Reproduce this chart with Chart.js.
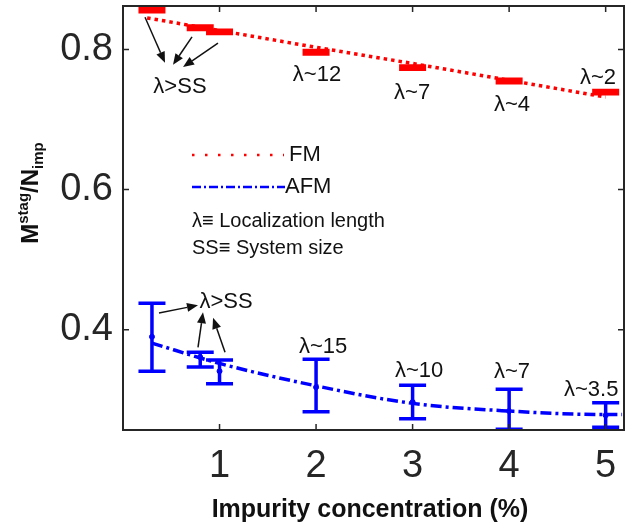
<!DOCTYPE html>
<html>
<head>
<meta charset="utf-8">
<script src="https://cdn.jsdelivr.net/npm/chart.js@4"></script>
<style>
  html, body { margin: 0; padding: 0; background: #fff; }
  #wrap { width: 629px; height: 524px; }
</style>
</head>
<body>
<div id="wrap"><canvas id="mychart" width="629" height="524"></canvas></div>
<script>
// FM data (red)
const fmX = [0.3, 0.8, 1.0, 2, 3, 4, 5];
const fmY = [0.856, 0.831, 0.825, 0.796, 0.774, 0.755, 0.739];
const fmErr = [0.002, 0.002, 0.002, 0.002, 0.002, 0.002, 0.002];

// AFM data (blue)
const afmX = [0.3, 0.8, 1.0, 2, 3, 4, 5];
const afmY = [0.390, 0.361, 0.341, 0.318, 0.297, 0.284, 0.278];
const afmHigh = [0.438, 0.368, 0.357, 0.358, 0.321, 0.315, 0.296];
const afmLow = [0.341, 0.347, 0.323, 0.283, 0.273, 0.258, 0.261];

// fit curves
const fmFitX = [0.25, 1, 2, 3, 4, 5];
const fmFitY = [0.845, 0.827, 0.803, 0.780, 0.756, 0.732];
const afmFitX = [0.3, 1, 2, 3, 4, 5, 5.17];
const afmFitY = [0.381, 0.352, 0.320, 0.295, 0.284, 0.279, 0.279];

// tick labels
const xTicks = [1, 2, 3, 4, 5];
const yTicks = [0.4, 0.6, 0.8];

// annotations: text at data coords, arrows tail -> head
const notes = [
  { t: "λ>SS", x: 0.59, y: 0.746 },
  { t: "λ~12", x: 2.01, y: 0.764 },
  { t: "λ~7", x: 2.995, y: 0.738 },
  { t: "λ~4", x: 4.03, y: 0.721 },
  { t: "λ~2", x: 4.92, y: 0.759 },
  { t: "λ>SS", x: 1.067, y: 0.440 },
  { t: "λ~15", x: 2.073, y: 0.375 },
  { t: "λ~10", x: 3.067, y: 0.341 },
  { t: "λ~7", x: 4.03, y: 0.340 },
  { t: "λ~3.5", x: 4.85, y: 0.314 },
];
const arrows = [
  [0.228, 0.846, 0.435, 0.781],
  [0.715, 0.818, 0.518, 0.778],
  [0.984, 0.809, 0.622, 0.775],
  [0.373, 0.424, 0.777, 0.435],
  [0.777, 0.375, 0.829, 0.425],
  [1.057, 0.368, 0.933, 0.417],
];

const FONT = "'Liberation Sans', Arial, sans-serif";
const AXIS = "#262626";

function pts(xs, ys) {
  return xs.map((x, i) => ({ x: x, y: ys[i] }));
}

// error bars, frame, ticks, legend, labels
const extras = {
  id: "extras",
  beforeDatasetsDraw(chart) {
    const ctx = chart.ctx;
    const xs = chart.scales.x, ys = chart.scales.y;
    const a = chart.chartArea;
    ctx.save();
    ctx.beginPath();
    ctx.rect(a.left, a.top, a.right - a.left, a.bottom - a.top);
    ctx.clip();
    // red error bars
    ctx.strokeStyle = "#ff0000";
    ctx.lineWidth = 4;
    fmX.forEach((x, i) => {
      const px = xs.getPixelForValue(x);
      const t = ys.getPixelForValue(fmY[i] + fmErr[i]);
      const b = ys.getPixelForValue(fmY[i] - fmErr[i]);
      ctx.beginPath();
      ctx.moveTo(px, t); ctx.lineTo(px, b);
      ctx.moveTo(px - 13.5, t); ctx.lineTo(px + 13.5, t);
      ctx.moveTo(px - 13.5, b); ctx.lineTo(px + 13.5, b);
      ctx.stroke();
    });
    // blue error bars
    ctx.strokeStyle = "#0000ff";
    ctx.lineWidth = 3.5;
    afmX.forEach((x, i) => {
      const px = xs.getPixelForValue(x);
      const t = ys.getPixelForValue(afmHigh[i]);
      const b = ys.getPixelForValue(afmLow[i]);
      ctx.beginPath();
      ctx.moveTo(px, t); ctx.lineTo(px, b);
      ctx.moveTo(px - 13.5, t); ctx.lineTo(px + 13.5, t);
      ctx.moveTo(px - 13.5, b); ctx.lineTo(px + 13.5, b);
      ctx.stroke();
    });
    ctx.restore();
  },
  afterDraw(chart) {
    const ctx = chart.ctx;
    const xs = chart.scales.x, ys = chart.scales.y;
    const a = chart.chartArea;
    ctx.save();

    // frame + inner ticks
    ctx.strokeStyle = AXIS;
    ctx.lineWidth = 2;
    ctx.strokeRect(a.left, a.top, a.right - a.left, a.bottom - a.top);
    ctx.lineWidth = 1.5;
    ctx.beginPath();
    xTicks.forEach(v => {
      const px = xs.getPixelForValue(v);
      ctx.moveTo(px, a.bottom); ctx.lineTo(px, a.bottom - 6);
      ctx.moveTo(px, a.top); ctx.lineTo(px, a.top + 6);
    });
    yTicks.forEach(v => {
      const py = ys.getPixelForValue(v);
      ctx.moveTo(a.left, py); ctx.lineTo(a.left + 6, py);
      ctx.moveTo(a.right, py); ctx.lineTo(a.right - 6, py);
    });
    ctx.stroke();

    // annotations
    ctx.fillStyle = "#111";
    ctx.font = "22px " + FONT;
    ctx.textAlign = "center";
    ctx.textBaseline = "middle";
    notes.forEach(n => {
      ctx.fillText(n.t, xs.getPixelForValue(n.x), ys.getPixelForValue(n.y));
    });
    ctx.strokeStyle = "#111";
    ctx.lineWidth = 1.5;
    arrows.forEach(r => {
      const x1 = xs.getPixelForValue(r[0]), y1 = ys.getPixelForValue(r[1]);
      const x2 = xs.getPixelForValue(r[2]), y2 = ys.getPixelForValue(r[3]);
      const ang = Math.atan2(y2 - y1, x2 - x1);
      const hl = 11, hw = 4.5;
      const bx = x2 - hl * Math.cos(ang), by = y2 - hl * Math.sin(ang);
      ctx.beginPath();
      ctx.moveTo(x1, y1); ctx.lineTo(bx, by);
      ctx.stroke();
      ctx.beginPath();
      ctx.moveTo(x2, y2);
      ctx.lineTo(bx + hw * Math.sin(ang), by - hw * Math.cos(ang));
      ctx.lineTo(bx - hw * Math.sin(ang), by + hw * Math.cos(ang));
      ctx.closePath();
      ctx.fillStyle = "#111";
      ctx.fill();
    });

    // legend
    ctx.lineWidth = 2.5;
    ctx.strokeStyle = "#ff0000";
    ctx.setLineDash([2.5, 10.5]);
    ctx.beginPath(); ctx.moveTo(192, 155); ctx.lineTo(284, 155); ctx.stroke();
    ctx.strokeStyle = "#0000ff";
    ctx.setLineDash([9, 3, 2, 3]);
    ctx.beginPath(); ctx.moveTo(192, 187); ctx.lineTo(285, 187); ctx.stroke();
    ctx.setLineDash([]);
    ctx.fillStyle = "#111";
    ctx.textAlign = "left";
    ctx.font = "22px " + FONT;
    ctx.fillText("FM", 289, 155);
    ctx.fillText("AFM", 285, 187);
    ctx.font = "20px " + FONT;
    ctx.fillText("λ≡ Localization length", 192, 221);
    ctx.fillText("SS≡ System size", 192, 248);

    // x title
    ctx.font = "bold 25px " + FONT;
    ctx.textAlign = "center";
    ctx.textBaseline = "alphabetic";
    ctx.fillText("Impurity concentration (%)", 370, 517);

    // y title, rotated, with super/subscripts
    ctx.translate(38, 193);
    ctx.rotate(-Math.PI / 2);
    const big = "bold 24px " + FONT, small = "bold 15px " + FONT;
    const parts = [
      { s: "M", f: big, dy: 0 },
      { s: "stag", f: small, dy: -10 },
      { s: "/N", f: big, dy: 0 },
      { s: "imp", f: small, dy: 5 },
    ];
    let w = 0;
    parts.forEach(p => { ctx.font = p.f; w += ctx.measureText(p.s).width; });
    let cx = -w / 2;
    ctx.textAlign = "left";
    parts.forEach(p => {
      ctx.font = p.f;
      ctx.fillText(p.s, cx, p.dy);
      cx += ctx.measureText(p.s).width;
    });
    ctx.restore();
  },
};

const ctx = document.getElementById("mychart").getContext("2d");

const myChart = new Chart(ctx, {
  type: "scatter",
  data: {
    datasets: [
      {
        data: pts(fmFitX, fmFitY),
        showLine: true,
        borderColor: "#ff0000",
        borderWidth: 3.5,
        borderDash: [3.5, 4],
        pointRadius: 0,
      },
      {
        data: pts(afmFitX, afmFitY),
        showLine: true,
        borderColor: "#0000ff",
        borderWidth: 3.5,
        borderDash: [11, 4, 3, 4],
        cubicInterpolationMode: "monotone",
        pointRadius: 0,
      },
      {
        data: pts(fmX, fmY),
        pointRadius: 2,
        backgroundColor: "#ff0000",
        borderColor: "#ff0000",
      },
      {
        data: pts(afmX, afmY),
        pointRadius: 2.5,
        backgroundColor: "#0000ff",
        borderColor: "#0000ff",
      },
    ],
  },
  options: {
    responsive: false,
    animation: false,
    events: [],
    layout: { padding: { top: 6, right: 5, left: 0, bottom: 0 } },
    plugins: { legend: { display: false }, tooltip: { enabled: false } },
    scales: {
      x: {
        type: "linear",
        min: 0,
        max: 5.19,
        grid: { display: false },
        border: { display: false },
        afterBuildTicks: s => { s.ticks = xTicks.map(v => ({ value: v })); },
        afterFit: s => { s.height = 94; s.paddingLeft = 0; s.paddingRight = 0; },
        ticks: { font: { family: FONT, size: 38 }, color: AXIS, padding: 6 },
      },
      y: {
        type: "linear",
        min: 0.257,
        max: 0.862,
        grid: { display: false, drawTicks: false },
        border: { display: false },
        afterBuildTicks: s => { s.ticks = yTicks.map(v => ({ value: v })); },
        afterFit: s => { s.width = 123; s.paddingTop = 0; s.paddingBottom = 0; },
        ticks: {
          font: { family: FONT, size: 38 },
          color: AXIS,
          padding: 10,
          callback: v => v.toFixed(1),
        },
      },
    },
  },
  plugins: [extras],
});
</script>
</body>
</html>
